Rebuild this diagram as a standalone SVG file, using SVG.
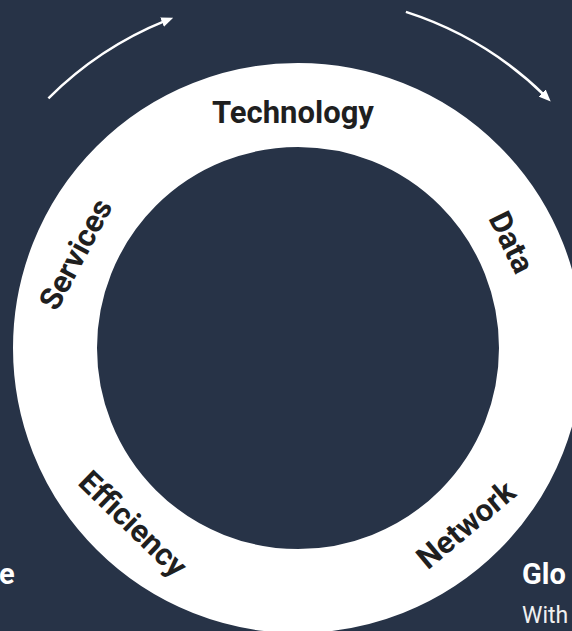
<svg xmlns="http://www.w3.org/2000/svg" width="572" height="631" viewBox="0 0 572 631">
  <style>
    .bg { fill: #273347; }
    .ring { fill: none; stroke: #ffffff; stroke-width: 84; }
    .lbl { font-family: Roboto, "Liberation Sans", sans-serif; font-weight: 700; font-size: 31px; fill: #1f1f1f; text-anchor: middle; }
    .conn { fill: none; stroke: #ffffff; stroke-width: 2.5; }
    .title { font-family: Roboto, "Liberation Sans", sans-serif; font-weight: 700; font-size: 29px; fill: #ffffff; }
    .body { font-family: Roboto, "Liberation Sans", sans-serif; font-weight: 400; font-size: 23px; fill: #f0f0f0; }
  </style>
  <defs>
    <marker id="arrow" markerUnits="userSpaceOnUse" markerWidth="12" markerHeight="10" refX="4" refY="5" orient="auto">
      <path d="M0,0 L12,5 L0,10 z" fill="#ffffff"/>
    </marker>
  </defs>
  <rect class="bg" x="0" y="0" width="572" height="631"/>

  <g id="cycle-ring">
    <circle class="ring" cx="298" cy="348" r="243"/>
  </g>

  <g id="connectors">
    <path class="conn" d="M48.4,98.4 A353,353 0 0 1 165.8,20.7" marker-end="url(#arrow)"/>
    <path class="conn" d="M405.9,11.9 A353,353 0 0 1 545.0,95.8" marker-end="url(#arrow)"/>
  </g>

  <g id="node-technology">
    <text class="lbl" x="293" y="123">Technology</text>
  </g>
  <g id="node-data">
    <text class="lbl" transform="translate(510,243) rotate(64)" x="0" y="9">Data</text>
  </g>
  <g id="node-network">
    <text class="lbl" transform="translate(467,526) rotate(-40)" x="0" y="9">Network</text>
  </g>
  <g id="node-efficiency">
    <text class="lbl" transform="translate(132,525) rotate(44)" x="0" y="9">Efficiency</text>
  </g>
  <g id="node-services">
    <text class="lbl" transform="translate(77,255) rotate(-62)" x="0" y="9">Services</text>
  </g>

  <g id="side-left">
    <text class="title" x="-1" y="584">e</text>
  </g>
  <g id="side-right">
    <text class="title" x="522" y="584">Glo</text>
    <text class="body" x="522" y="623">With</text>
  </g>
</svg>
